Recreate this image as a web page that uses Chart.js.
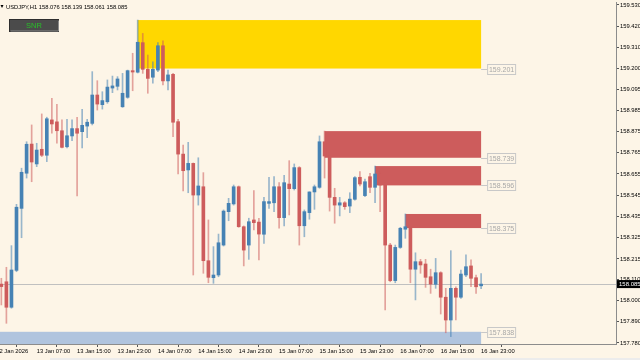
<!DOCTYPE html>
<html>
<head>
<meta charset="utf-8">
<script src="https://cdn.jsdelivr.net/npm/chart.js@4.4.1/dist/chart.umd.min.js"></script>
<style>
  html, body { margin: 0; padding: 0; background: #fdf5e7; }
  canvas { display: block; }
</style>
</head>
<body>
<canvas id="chart" width="640" height="360"></canvas>
<script>
const symbol = 'USDJPY,H1';

// H1 bars from 13 Jan 00:00 to 16 Jan 23:00 (bar 0 = 12 Jan 23:00 sits just off the left edge)
const opens = [
  158.085, 158.097, 157.965, 158.156, 158.477, 158.659, 158.810, 158.707, 158.783, 158.752,
  158.935, 158.925, 158.879, 158.796, 158.852, 158.890, 158.874, 158.903, 158.917, 159.064,
  159.014, 159.029, 159.100, 159.109, 159.003, 159.052, 159.190, 159.182, 159.335, 159.197,
  159.156, 159.193, 159.319, 159.137, 159.171, 158.926, 158.758, 158.676, 158.710, 158.546,
  158.589, 158.206, 158.118, 158.132, 158.287, 158.460, 158.500, 158.589, 158.382, 158.287,
  158.417, 158.406, 158.343, 158.503, 158.506, 158.589, 158.429, 158.603, 158.579, 158.688,
  158.387, 158.455, 158.562, 158.586, 158.822, 158.745, 158.534, 158.494, 158.506, 158.489,
  158.524, 158.638, 158.543, 158.641, 158.586, 158.655, 158.598, 158.287, 158.103, 158.275,
  158.369, 158.374, 158.162, 158.201, 158.189, 158.123, 158.084, 158.144, 158.017, 157.899,
  158.063, 158.017, 158.132, 158.179, 158.118, 158.076
];
const highs = [
  158.115, 158.172, 158.284, 158.498, 158.685, 158.822, 158.909, 158.814, 158.966, 158.949,
  159.047, 159.016, 158.935, 158.938, 158.935, 158.949, 158.990, 158.938, 159.185, 159.138,
  159.081, 159.142, 159.162, 159.159, 159.176, 159.193, 159.280, 159.452, 159.383, 159.271,
  159.236, 159.335, 159.345, 159.193, 159.176, 158.938, 158.805, 158.819, 158.712, 158.739,
  158.662, 158.417, 158.279, 158.344, 158.469, 158.529, 158.598, 158.593, 158.386, 158.426,
  158.569, 158.426, 158.534, 158.638, 158.641, 158.610, 158.648, 158.724, 158.707, 158.693,
  158.469, 158.563, 158.598, 158.852, 158.877, 158.748, 158.581, 158.534, 158.512, 158.558,
  158.641, 158.667, 158.629, 158.659, 158.696, 158.665, 158.608, 158.296, 158.287, 158.379,
  158.448, 158.381, 158.247, 158.213, 158.213, 158.162, 158.218, 158.149, 158.063, 158.258,
  158.071, 158.158, 158.236, 158.210, 158.132, 158.139
];
const lows = [
  157.977, 157.882, 157.960, 158.149, 158.325, 158.634, 158.615, 158.693, 158.745, 158.719,
  158.866, 158.814, 158.790, 158.790, 158.827, 158.541, 158.790, 158.843, 158.909, 158.986,
  158.991, 159.021, 159.076, 159.090, 159.000, 159.047, 159.086, 159.178, 159.176, 159.073,
  159.125, 159.185, 159.116, 159.090, 158.848, 158.655, 158.567, 158.558, 158.132, 158.494,
  158.141, 158.092, 158.089, 158.123, 158.282, 158.413, 158.494, 158.379, 158.179, 158.213,
  158.365, 158.210, 158.296, 158.477, 158.460, 158.374, 158.386, 158.443, 158.572, 158.287,
  158.330, 158.421, 158.472, 158.581, 158.634, 158.463, 158.400, 158.438, 158.472, 158.455,
  158.520, 158.593, 158.538, 158.558, 158.506, 158.460, 157.951, 158.097, 158.092, 158.270,
  158.322, 158.092, 158.003, 158.141, 158.068, 158.037, 158.063, 157.930, 157.833, 157.813,
  157.899, 158.011, 158.123, 158.071, 158.037, 158.061
];
const closes = [
  158.072, 157.965, 158.158, 158.483, 158.664, 158.809, 158.717, 158.779, 158.752, 158.941,
  158.914, 158.879, 158.793, 158.853, 158.890, 158.866, 158.907, 158.923, 159.064, 159.017,
  159.035, 159.105, 159.111, 159.147, 159.073, 159.190, 159.183, 159.337, 159.197, 159.150,
  159.197, 159.319, 159.137, 159.168, 158.923, 158.758, 158.672, 158.710, 158.546, 158.593,
  158.206, 158.120, 158.132, 158.299, 158.463, 158.503, 158.589, 158.382, 158.261, 158.408,
  158.403, 158.344, 158.512, 158.512, 158.589, 158.429, 158.610, 158.579, 158.688, 158.387,
  158.460, 158.562, 158.589, 158.822, 158.748, 158.534, 158.494, 158.506, 158.486, 158.525,
  158.636, 158.603, 158.615, 158.586, 158.655, 158.598, 158.287, 158.103, 158.275, 158.374,
  158.382, 158.162, 158.201, 158.184, 158.120, 158.085, 158.144, 158.017, 157.899, 158.063,
  158.017, 158.137, 158.175, 158.115, 158.071, 158.085
];

const timeLabels = [
  '12 Jan 2026', '13 Jan 07:00', '13 Jan 15:00', '13 Jan 23:00', '14 Jan 07:00',
  '14 Jan 15:00', '14 Jan 23:00', '15 Jan 07:00', '15 Jan 15:00', '15 Jan 23:00',
  '16 Jan 07:00', '16 Jan 15:00', '16 Jan 23:00'
];
const timeTickBars = [0, 8, 16, 24, 32, 40, 48, 56, 64, 72, 80, 88, 96];
const priceTicks = [
  159.530, 159.420, 159.310, 159.200, 159.095, 158.985, 158.875, 158.765, 158.655,
  158.545, 158.435, 158.325, 158.215, 158.110, 158.000, 157.890, 157.780
];
const bidPrice = 158.085;

// support / resistance zones
const zoneTops = [159.452, 158.877, 158.696, 158.448, 157.838];
const zoneBottoms = [159.201, 158.739, 158.596, 158.375, 157.700];
const zoneStartBars = [28, 65, 75, 81, -3];
const zoneEndBar = 96;
const zoneLabels = ['159.201', '158.739', '158.596', '158.375', '157.838'];

const zoneColors = ['#ffd700', '#cd5c5c', '#cd5c5c', '#cd5c5c', '#b0c4de'];
const upColor = '#4682b4';
const downColor = '#cd5c5c';
const upWick = 'rgba(70,130,180,0.55)';
const downWick = 'rgba(205,92,92,0.55)';
const font = 'Liberation Sans';

const isUp = (i) => closes[i] >= opens[i];

const zonesPlugin = {
  id: 'zones',
  beforeDatasetsDraw(chart) {
    const { ctx, chartArea, scales: { x, y } } = chart;
    ctx.save();
    ctx.beginPath();
    ctx.rect(chartArea.left, chartArea.top, chartArea.right - chartArea.left, chartArea.bottom - chartArea.top);
    ctx.clip();
    zoneTops.forEach((top, i) => {
      const x0 = x.getPixelForValue(zoneStartBars[i]);
      const x1 = x.getPixelForValue(zoneEndBar);
      const y0 = y.getPixelForValue(top);
      const y1 = y.getPixelForValue(zoneBottoms[i]);
      ctx.fillStyle = zoneColors[i];
      ctx.fillRect(x0, y0, x1 - x0, y1 - y0);
    });
    // bid line
    const by = Math.round(y.getPixelForValue(bidPrice)) + 0.5;
    ctx.strokeStyle = '#c0c0c0';
    ctx.lineWidth = 1;
    ctx.beginPath();
    ctx.moveTo(chartArea.left, by);
    ctx.lineTo(chartArea.right, by);
    ctx.stroke();
    ctx.restore();
  },
  afterDraw(chart) {
    const { ctx, chartArea, scales: { x, y } } = chart;
    ctx.save();
    // zone price labels
    ctx.font = '7px ' + font;
    ctx.textAlign = 'center';
    ctx.textBaseline = 'middle';
    zoneLabels.forEach((txt, i) => {
      const xe = x.getPixelForValue(zoneEndBar);
      const yl = Math.round(y.getPixelForValue(zoneBottoms[i] > 157.78 ? zoneBottoms[i] : zoneTops[i])) + 0.5;
      ctx.strokeStyle = '#c8c8c8';
      ctx.lineWidth = 1;
      ctx.beginPath();
      ctx.moveTo(xe, yl);
      ctx.lineTo(xe + 6, yl);
      ctx.stroke();
      ctx.fillStyle = '#fdf5e7';
      ctx.fillRect(xe + 6.5, yl - 5, 28, 10);
      ctx.strokeRect(xe + 6.5, yl - 5, 28, 10);
      ctx.fillStyle = '#a8a8a8';
      ctx.fillText(txt, xe + 20.5, yl + 0.5);
    });
    // bid label on the price axis
    const by = y.getPixelForValue(bidPrice);
    ctx.fillStyle = '#000';
    ctx.fillRect(chartArea.right + 1, by - 4, 30, 8);
    ctx.fillStyle = '#fff';
    ctx.font = '6px ' + font;
    ctx.textAlign = 'left';
    ctx.fillText(bidPrice.toFixed(3), chartArea.right + 3, by + 0.5);
    // header
    const n = closes.length - 1;
    ctx.fillStyle = '#000';
    ctx.beginPath();
    ctx.moveTo(0.5, 5);
    ctx.lineTo(3.5, 5);
    ctx.lineTo(2, 8);
    ctx.closePath();
    ctx.fill();
    ctx.font = '5.8px ' + font;
    ctx.fillText([symbol, opens[n].toFixed(3), highs[n].toFixed(3), lows[n].toFixed(3), closes[n].toFixed(3)].join(' '), 6, 7.5);
    // SNR button
    ctx.fillStyle = '#4b4b4b';
    ctx.fillRect(9, 19, 50, 13);
    ctx.strokeStyle = '#2e2e2e';
    ctx.strokeRect(9.5, 19.5, 49, 12);
    ctx.strokeStyle = '#8a8a8a';
    ctx.beginPath();
    ctx.moveTo(10.5, 31); ctx.lineTo(58.5, 31); ctx.lineTo(58.5, 20.5);
    ctx.stroke();
    ctx.fillStyle = '#28c028';
    ctx.font = '7.5px ' + font;
    ctx.textAlign = 'center';
    ctx.fillText('SNR', 34, 26);
    // window strip at the bottom
    ctx.fillStyle = '#ececec';
    ctx.fillRect(50, 358, 590, 2);
    ctx.restore();
  }
};

new Chart(document.getElementById('chart'), {
  type: 'bar',
  data: {
    datasets: [
      {
        label: 'wicks',
        data: opens.map((o, i) => ({ x: i + 1, y: [lows[i], highs[i]] })),
        backgroundColor: (c) => (isUp(c.dataIndex) ? upWick : downWick),
        barThickness: 1,
        order: 2
      },
      {
        label: 'bodies',
        data: opens.map((o, i) => ({ x: i + 1, y: [o, closes[i]] })),
        backgroundColor: (c) => (isUp(c.dataIndex) ? upColor : downColor),
        barThickness: 3,
        minBarLength: 1,
        order: 1
      }
    ]
  },
  options: {
    responsive: false,
    animation: false,
    events: [],
    layout: { padding: { top: 2, left: 0, right: 0, bottom: 0 } },
    datasets: { bar: { grouped: false, borderWidth: 0 } },
    plugins: { legend: { display: false }, tooltip: { enabled: false } },
    scales: {
      x: {
        type: 'linear',
        min: 0.733,
        max: 122.71,
        offset: false,
        afterBuildTicks: (s) => { s.ticks = timeTickBars.map((v) => ({ value: v })); },
        afterFit: (s) => { s.height = 16; s.paddingLeft = 0; s.paddingRight = 0; },
        grid: { drawOnChartArea: false, tickLength: 3, color: '#555' },
        border: { display: true, color: '#8c8c8c' },
        ticks: {
          autoSkip: false,
          maxRotation: 0,
          align: 'start',
          padding: 1,
          color: '#000',
          font: { family: font, size: 5.8 },
          callback: (v, i) => timeLabels[i]
        }
      },
      y: {
        position: 'right',
        min: 157.7748,
        max: 159.5455,
        afterBuildTicks: (s) => { s.ticks = priceTicks.map((v) => ({ value: v })); },
        afterFit: (s) => { s.width = 24; s.paddingTop = 0; s.paddingBottom = 0; },
        grid: { drawOnChartArea: false, tickLength: 3, color: '#555' },
        border: { display: true, color: '#8c8c8c' },
        ticks: {
          padding: 1,
          color: '#000',
          font: { family: font, size: 5.8 },
          callback: (v) => v.toFixed(3)
        }
      }
    }
  },
  plugins: [zonesPlugin]
});
</script>
</body>
</html>
